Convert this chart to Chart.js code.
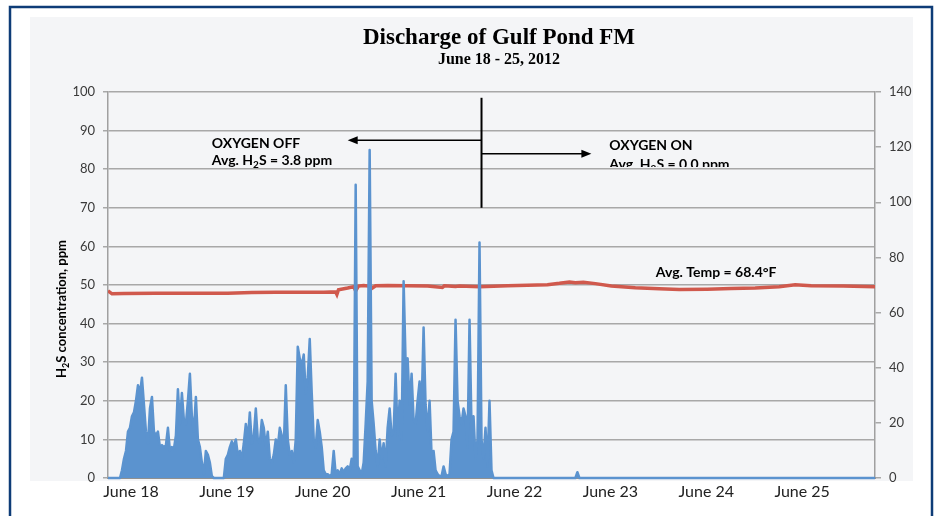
<!DOCTYPE html>
<html><head><meta charset="utf-8">
<script src="https://cdn.jsdelivr.net/npm/chart.js@4"></script>
<style>html,body{margin:0;padding:0;background:#fff}#wrap{width:936px;height:516px;position:relative}</style>
</head><body><div id="wrap"><canvas id="c" width="936" height="516"></canvas></div>
<script>
// ---- data ----
const chartTitle = 'Discharge of Gulf Pond FM';
const chartSubtitle = 'June 18 - 25, 2012';
const dayLabels = ['June 18','June 19','June 20','June 21','June 22','June 23','June 24','June 25'];
const leftTicks = [0,10,20,30,40,50,60,70,80,90,100];
const rightTicks = [0,20,40,60,80,100,120,140];
// H2S (ppm), half-hourly readings from June 18 00:00
const h2sStepHours = 0.5;
const h2sPpm = [
  0,0,0,0,0,0,0,
  2,5,7,12,13,16,17,20,24,22,
  26,19,12,9,18,21,12,11,12,8,
  8.5,8,8.5,13,7,8,7.5,11,23,14,
  22,15,14,20,27,16,12,21,10,8,
  4,1,7,6,4,0.5,0,0,0,0,
  0,0,5,6,8,9.5,8,10,6,7,
  5,9,14,10,17,9,11,18,10,9,
  15,13,8,12,5,4,6,10,8,13,
  11,8,24,10,6,7,4,10,34,31,
  29,32,22,26,36,22,10,8,15,12,
  8,2,1,1,0.5,1,7,1,2,1,
  2.5,1.5,2.5,3,2,5,3,76,3,2,
  1,4,14,25,85,20,14,7,3,10,
  5,9,3,13,18,11,12,27,11,20,
  10,51,30,31,19,27,15,14,20,25,
  18,39,19,12,20,6,7,2,1,0.5,
  0.5,3,1,0.5,1,10,12,41,20,16,
  14,18,16,8,41,13,16,5,10,61,
  10,5,13,3,20,2,0
];
const h2sLateHours = [97, 117, 117.5, 118, 192];
const h2sLatePpm = [0, 0, 1.5, 0, 0];
// Temperature (°F)
const tempHours = [0,1,4,12,24,30,36,42,48,54,57,57.3,57.7,60,61.5,62,62.7,64,65.8,66.2,67,70,75,80,83.7,84.2,87,88,93,100,105,110,113,115.5,117,119,122,126,132,138,143,150,156,162,168,172,176,184,192];
const tempF   = [67.9,66.8,66.9,67.0,67.0,67.0,67.3,67.4,67.4,67.4,67.5,66.6,68.3,68.9,69.4,67.9,69.6,69.8,69.5,68.9,69.7,69.8,69.7,69.6,69.1,69.7,69.5,69.6,69.4,69.7,69.9,70.1,70.6,71.1,70.8,71.0,70.5,69.6,69.0,68.6,68.4,68.5,68.7,68.9,69.4,70.1,69.7,69.6,69.4];

// ---- build datasets ----
const h2sPoints = h2sPpm.map((v,i)=>({x:i*h2sStepHours, y:v}))
  .concat(h2sLateHours.map((h,i)=>({x:h, y:h2sLatePpm[i]})));
const tempPoints = tempHours.map((h,i)=>({x:h, y:tempF[i]}));

const BLUE = '#5B93CF', RED = '#D0594D', GRID = '#A8A8A8', TXT = '#3A3A3A';

const bgPlugin = {
  id:'bg',
  beforeDraw(chart){
    const ctx = chart.ctx;
    ctx.save();
    ctx.fillStyle = '#ffffff'; ctx.fillRect(0,0,936,516);
    ctx.fillStyle = '#F4F5F7'; ctx.fillRect(30,17,883,464);
    ctx.strokeStyle = '#0E3C77'; ctx.lineWidth = 2.5;
    ctx.strokeRect(10,7,922,540);
    ctx.restore();
  }
};

function subText(ctx, x, y, pre, sub, post, size){
  ctx.font = 'bold '+size+'px Lato';
  ctx.fillText(pre, x, y);
  let w = ctx.measureText(pre).width;
  ctx.font = 'bold '+Math.round(size*0.68)+'px Lato';
  ctx.fillText(sub, x+w, y+3);
  w += ctx.measureText(sub).width;
  ctx.font = 'bold '+size+'px Lato';
  ctx.fillText(post, x+w, y);
}
function subWidth(ctx, pre, sub, post, size){
  ctx.font = 'bold '+size+'px Lato';
  let w = ctx.measureText(pre).width + ctx.measureText(post).width;
  ctx.font = 'bold '+Math.round(size*0.68)+'px Lato';
  return w + ctx.measureText(sub).width;
}

const annPlugin = {
  id:'ann',
  afterDraw(chart){
    const ctx = chart.ctx, x = chart.scales.x, yl = chart.scales.y, yr = chart.scales.y2;
    ctx.save();
    ctx.fillStyle = '#000';
    ctx.textBaseline = 'alphabetic';
    // title
    ctx.textAlign = 'center';
    ctx.font = 'bold 23px "Liberation Serif"';
    ctx.fillText(chartTitle, 499, 44);
    ctx.font = 'bold 16px "Liberation Serif"';
    ctx.fillText(chartSubtitle, 499, 64);
    // left axis title
    ctx.save();
    ctx.translate(66, 309);
    ctx.rotate(-Math.PI/2);
    ctx.textAlign = 'left';
    const tw = subWidth(ctx,'H','2','S concentration, ppm',13);
    subText(ctx, -tw/2, 0, 'H','2','S concentration, ppm',13);
    ctx.restore();
    // divider and arrows
    const xv = x.getPixelForValue(93.5);
    ctx.strokeStyle = '#000'; ctx.lineWidth = 2;
    ctx.beginPath(); ctx.moveTo(xv, yl.getPixelForValue(98.5)); ctx.lineTo(xv, yl.getPixelForValue(70)); ctx.stroke();
    const ya = yl.getPixelForValue(87.5), xl = x.getPixelForValue(60);
    const yb = yl.getPixelForValue(84), xr = x.getPixelForValue(121);
    ctx.lineWidth = 1.5;
    ctx.beginPath(); ctx.moveTo(xv, ya); ctx.lineTo(xl+8, ya); ctx.stroke();
    ctx.beginPath(); ctx.moveTo(xl, ya); ctx.lineTo(xl+10, ya-4); ctx.lineTo(xl+10, ya+4); ctx.closePath(); ctx.fill();
    ctx.beginPath(); ctx.moveTo(xv, yb); ctx.lineTo(xr-8, yb); ctx.stroke();
    ctx.beginPath(); ctx.moveTo(xr, yb); ctx.lineTo(xr-10, yb-4); ctx.lineTo(xr-10, yb+4); ctx.closePath(); ctx.fill();
    // texts
    ctx.textAlign = 'left';
    ctx.font = 'bold 14px Lato';
    const xo = x.getPixelForValue(26);
    ctx.fillText('OXYGEN OFF', xo, yl.getPixelForValue(85.5));
    subText(ctx, xo, yl.getPixelForValue(81), 'Avg. H','2','S = 3.8 ppm',14);
    const xn = x.getPixelForValue(125.5);
    ctx.font = 'bold 14px Lato';
    ctx.fillText('OXYGEN ON', xn, yl.getPixelForValue(85));
    ctx.save();
    ctx.beginPath(); ctx.rect(xn-5, 150, 200, yl.getPixelForValue(80.6)-150); ctx.clip();
    subText(ctx, xn, yl.getPixelForValue(80.1), 'Avg. H','2','S = 0.0 ppm',14);
    ctx.restore();
    ctx.textAlign = 'center';
    ctx.font = 'bold 14px Lato';
    ctx.fillText('Avg. Temp = 68.4°F', x.getPixelForValue(152.25), yr.getPixelForValue(72.9));
    ctx.restore();
  }
};

new Chart(document.getElementById('c'), {
  type:'line',
  data:{
    datasets:[
      {label:'H2S', data:h2sPoints, yAxisID:'y', borderColor:BLUE, backgroundColor:BLUE, borderWidth:2.5, fill:'origin', pointRadius:0, tension:0, borderJoinStyle:'round', clip:false},
      {label:'Temp', data:tempPoints, yAxisID:'y2', borderColor:RED, borderWidth:3.5, fill:false, pointRadius:0, tension:0}
    ]
  },
  options:{
    responsive:false, animation:false, devicePixelRatio:1,
    layout:{padding:{top:92,left:0,right:0,bottom:0}},
    plugins:{legend:{display:false}, tooltip:{enabled:false}},
    scales:{
      x:{type:'linear', min:0, max:192, position:'bottom',
        grid:{display:false, drawTicks:false},
        border:{display:true, color:'#909090', width:2},
        afterBuildTicks:(s)=>{ s.ticks = dayLabels.map((_,i)=>({value:i*24})); },
        ticks:{callback:(v)=>dayLabels[Math.round(v/24)], labelOffset:23, autoSkip:false, maxRotation:0, padding:4, color:'#222', font:{family:'Lato', size:16}},
        afterFit:(s)=>{ s.height = 38; }
      },
      y:{position:'left', min:0, max:100,
        afterBuildTicks:(s)=>{ s.ticks = leftTicks.map(v=>({value:v})); },
        grid:{color:GRID, lineWidth:1.5, tickLength:5},
        border:{color:'#A0A0A0', width:1.5},
        ticks:{padding:8, color:TXT, font:{family:'Lato', size:13}},
        afterFit:(s)=>{ s.width = 108; }
      },
      y2:{position:'right', min:0, max:140,
        afterBuildTicks:(s)=>{ s.ticks = rightTicks.map(v=>({value:v})); },
        grid:{drawOnChartArea:false, color:GRID, lineWidth:1.5, tickLength:6},
        border:{color:'#A0A0A0', width:1.5},
        ticks:{padding:8, color:TXT, font:{family:'Lato', size:13}},
        afterFit:(s)=>{ s.width = 61; }
      }
    }
  },
  plugins:[bgPlugin, annPlugin]
});
</script></body></html>
